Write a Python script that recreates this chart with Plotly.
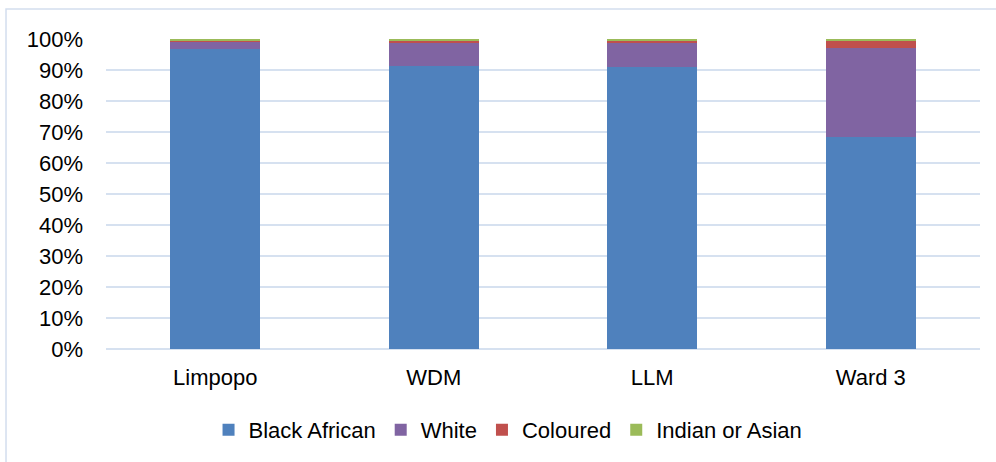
import plotly.graph_objects as go

# Population group shares (%) by area
areas = ["Limpopo", "WDM", "LLM", "Ward 3"]
black_african = [96.7, 91.2, 91.0, 68.5]
white = [2.5, 7.8, 7.7, 28.6]
coloured = [0.4, 0.5, 0.8, 2.1]
indian_or_asian = [0.4, 0.5, 0.5, 0.8]

series = [
    ("Black African", black_african, "#4f81bd"),
    ("White", white, "#8064a2"),
    ("Coloured", coloured, "#c0504d"),
    ("Indian or Asian", indian_or_asian, "#9bbb59"),
]

tick_vals = list(range(0, 101, 10))
tick_text = [f"{v}%" for v in tick_vals]

FONT = "Liberation Sans, Arial, sans-serif"
GRID = "#d6e1f0"

fig = go.Figure()
for name, vals, color in series:
    fig.add_trace(go.Bar(
        x=areas, y=vals, name=name,
        marker=dict(color=color, line=dict(width=0)),
    ))

fig.update_layout(
    barmode="stack",
    bargap=0.59,
    width=996, height=462,
    margin=dict(l=106, r=16, t=39, b=112),
    paper_bgcolor="white",
    plot_bgcolor="white",
    font=dict(family=FONT, size=22, color="#000000"),
    showlegend=True,
    legend=dict(
        orientation="h",
        x=0.46, xanchor="center",
        y=-0.257, yanchor="middle",
        font=dict(family=FONT, size=22, color="#000000"),
        itemwidth=30,
        traceorder="normal",
    ),
    xaxis=dict(
        showgrid=False, ticks="", showline=False,
        ticklabelstandoff=13,
        tickfont=dict(family=FONT, size=22),
    ),
    yaxis=dict(
        range=[0, 100],
        tickvals=tick_vals, ticktext=tick_text,
        showgrid=True, gridcolor=GRID, gridwidth=2,
        zeroline=True, zerolinecolor=GRID, zerolinewidth=2,
        ticks="", showline=False,
        ticklabelstandoff=22,
        tickfont=dict(family=FONT, size=22),
    ),
    shapes=[dict(
        type="rect", xref="paper", yref="paper",
        x0=-0.1144, x1=1.06, y0=-0.6, y1=1.0965,
        line=dict(color="#d3deee", width=1.5),
        fillcolor="rgba(0,0,0,0)", layer="below",
    )],
)

fig.write_html("out.html")
